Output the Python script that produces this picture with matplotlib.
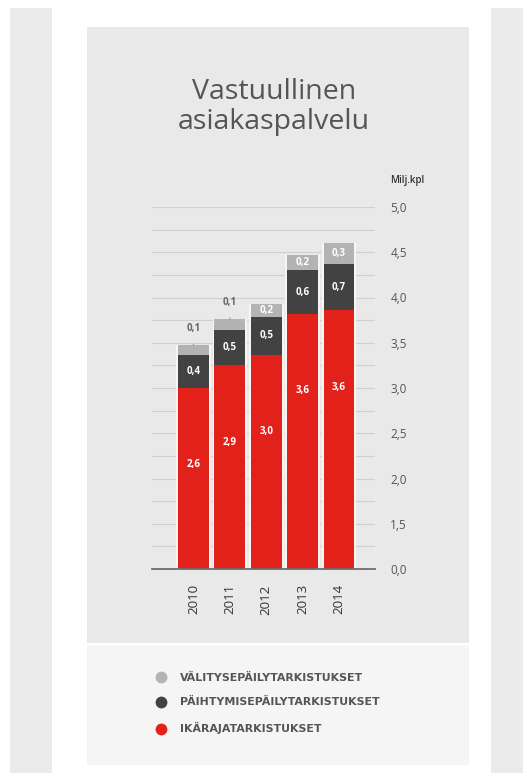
import numpy as np
import matplotlib
matplotlib.use("Agg")
import matplotlib.pyplot as plt
from matplotlib.patches import Rectangle
from matplotlib.lines import Line2D

plt.rcParams['font.family'] = ['Open Sans', 'DejaVu Sans']

years = ["2010", "2011", "2012", "2013", "2014"]

# values printed on the bars (milj. kpl)
ikaraja = [2.6, 2.9, 3.0, 3.6, 3.6]
paihtymis = [0.4, 0.5, 0.5, 0.6, 0.7]
valitys = [0.1, 0.1, 0.2, 0.2, 0.3]

# segment heights as drawn against the axis in the original
ikaraja_h = [3.00, 3.25, 3.37, 3.82, 3.86]
paihtymis_h = [0.37, 0.39, 0.42, 0.48, 0.51]
valitys_h = [0.10, 0.12, 0.14, 0.17, 0.23]

yticks = [0.0, 1.5, 2.0, 2.5, 3.0, 3.5, 4.0, 4.5, 5.0]
ygrid_minor = [0.75, 1.75, 2.25, 2.75, 3.25, 3.75, 4.25, 4.75]

legend_labels = ["VÄLITYSEPÄILYTARKISTUKSET",
                 "PÄIHTYMISEPÄILYTARKISTUKSET",
                 "IKÄRAJATARKISTUKSET"]

RED = "#e2211b"
DARK = "#424242"
LIGHT = "#b3b3b3"

W, H = 523, 773


def box(x0, y0, x1, y1):
    # pixel box (top-left origin) -> figure fractions
    return (x0 / W, 1 - y1 / H), (x1 - x0) / W, (y1 - y0) / H


def fwd(v):
    v = np.asarray(v, dtype=float)
    return np.where(v <= 1.5, v / 3.0, v - 1.0)


def inv(d):
    d = np.asarray(d, dtype=float)
    return np.where(d <= 0.5, d * 3.0, d + 1.0)


def fmt(v):
    return f"{v:.1f}".replace(".", ",")


fig = plt.figure(figsize=(W / 100, H / 100), dpi=100)
fig.patch.set_facecolor("white")

for (x0, y0, x1, y1, c) in [(10, 8, 52, 773, "#ebebeb"),
                            (491, 8, 523, 773, "#ebebeb"),
                            (87, 27, 469, 643, "#e9e9e9"),
                            (87, 645, 469, 765, "#f5f5f5")]:
    xy, w, h = box(x0, y0, x1, y1)
    fig.add_artist(Rectangle(xy, w, h, transform=fig.transFigure,
                             facecolor=c, edgecolor="none", zorder=-5))

fig.text(274 / W, 1 - 107 / H, "Vastuullinen\nasiakaspalvelu",
         ha="center", va="center", fontsize=20.5, color="#555555",
         linespacing=1.12)
fig.text(390 / W, 1 - 181 / H, "Milj.kpl", ha="left", va="center",
         fontsize=7, color="#333333", fontweight="semibold")

xy, w, h = box(152, 207, 375, 569)
ax = fig.add_axes([xy[0], xy[1], w, h])
ax.set_facecolor("none")
ax.set_yscale("function", functions=(fwd, inv))
ax.set_ylim(0, 5.0)
ax.set_xlim(-1.14, 4.99)

x = np.arange(len(years))
tot = np.array(ikaraja_h) + np.array(paihtymis_h) + np.array(valitys_h)
ax.bar(x, tot, width=0.95, color="#fbf4f4", zorder=2)
ax.bar(x, ikaraja_h, width=0.85, color=RED, zorder=3)
ax.bar(x, paihtymis_h, bottom=ikaraja_h, width=0.85, color=DARK, zorder=3)
b2 = np.array(ikaraja_h) + np.array(paihtymis_h)
ax.bar(x, valitys_h, bottom=b2, width=0.85, color=LIGHT, zorder=3)

lab = dict(ha="center", va="center", color="white", fontsize=7,
           fontweight="bold", zorder=4)
for i in range(len(years)):
    ax.text(x[i], ikaraja_h[i] - 0.85, fmt(ikaraja[i]), **lab)
    ax.text(x[i], ikaraja_h[i] + paihtymis_h[i] / 2, fmt(paihtymis[i]), **lab)
    if valitys_h[i] < 0.13:
        ax.annotate(fmt(valitys[i]), xy=(x[i], tot[i]), xytext=(0, 12),
                    textcoords="offset points", ha="center", va="center",
                    fontsize=7, fontweight="bold", color="#666666",
                    arrowprops=dict(arrowstyle="-", color="#999999", lw=0.8,
                                    shrinkA=5, shrinkB=0), zorder=4)
    else:
        ax.text(x[i], b2[i] + valitys_h[i] / 2, fmt(valitys[i]), **lab)

ax.set_yticks(yticks)
ax.set_yticklabels([fmt(t) for t in yticks])
ax.set_yticks(ygrid_minor, minor=True)
ax.yaxis.tick_right()
ax.tick_params(axis="y", which="both", length=0, pad=11,
               labelsize=8.5, labelcolor="#555555")
ax.grid(axis="y", which="both", color="#d0d0d0", lw=0.8, zorder=0)
ax.axhline(0, color="#6e6e6e", lw=1.3, zorder=5, clip_on=False)

ax.set_xticks(x)
ax.set_xticklabels(years, rotation=90)
ax.tick_params(axis="x", length=0, pad=11, labelsize=9.5,
               labelcolor="#333333")
for s in ax.spines.values():
    s.set_visible(False)

handles = [Line2D([], [], marker="o", ls="none", markersize=8.5,
                  markerfacecolor=c, markeredgecolor="none")
           for c in (LIGHT, DARK, RED)]
fig.legend(handles, legend_labels, loc="upper left",
           bbox_to_anchor=(150 / W, 1 - 667 / H), frameon=False,
           prop=dict(family="DejaVu Sans", weight="bold", size=7.9),
           labelcolor="#555555", handletextpad=1.2,
           labelspacing=1.35, handlelength=1.0, borderpad=0)

fig.savefig("out.png", dpi=100)
